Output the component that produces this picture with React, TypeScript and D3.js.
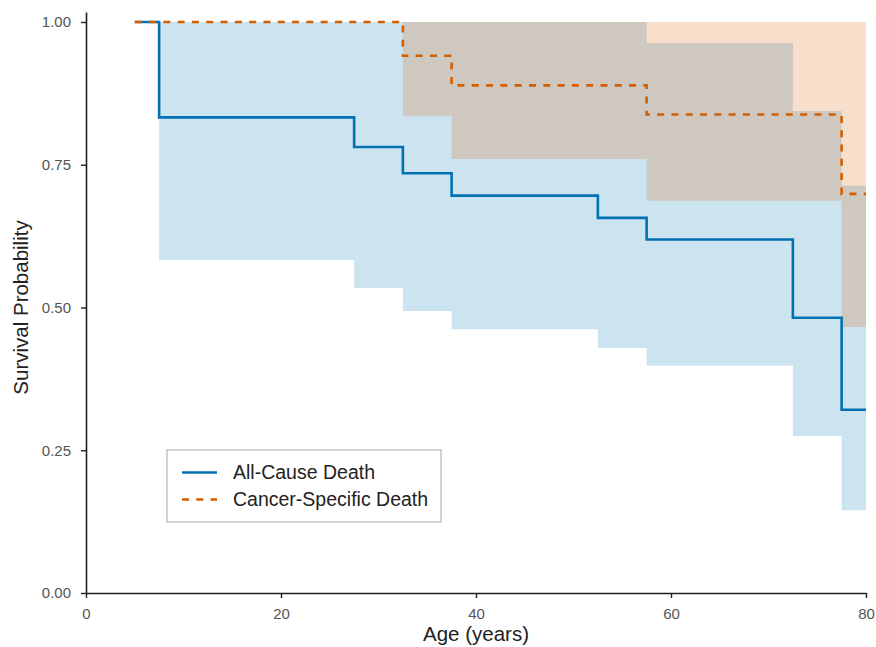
import React, { useEffect, useRef } from "react";
import * as d3 from "d3";

// Kaplan-Meier step values
const allCauseAges = [5, 7.5, 27.5, 32.5, 37.5, 52.5, 57.5, 72.5, 77.5, 80];
const allCauseSurv = [1.0, 0.833, 0.781, 0.735, 0.696, 0.657, 0.619, 0.482, 0.321, 0.321];
const allCauseLower = [1.0, 0.583, 0.534, 0.494, 0.462, 0.429, 0.398, 0.275, 0.145, 0.145];
const allCauseUpper = [1.0, 1.0, 1.0, 1.0, 1.0, 1.0, 0.963, 0.844, 0.713, 0.713];

const cancerAges = [5, 32.5, 37.5, 57.5, 77.5, 80];
const cancerSurv = [1.0, 0.941, 0.889, 0.838, 0.699, 0.699];
const cancerLower = [1.0, 0.835, 0.76, 0.687, 0.466, 0.466];
const cancerUpper = [1.0, 1.0, 1.0, 1.0, 1.0, 1.0];

const xTicks = [0, 20, 40, 60, 80];
const yTicks = [0, 0.25, 0.5, 0.75, 1.0];
const seriesNames = ["All-Cause Death", "Cancer-Specific Death"];

const blue = "#0072B2";
const orange = "#D55E00";
const font = "'Liberation Sans', Arial, sans-serif";

export default function App() {
  const ref = useRef<SVGSVGElement>(null);

  useEffect(() => {
    const width = 876;
    const height = 647;
    const svg = d3.select(ref.current);
    svg.selectAll("*").remove();

    const x = d3.scaleLinear().domain([0, 80]).range([86, 866]);
    const y = d3.scaleLinear().domain([0, 1.0175]).range([593, 12]);

    type Pt = { t: number; s: number; lo: number; hi: number };
    const build = (ages: number[], s: number[], lo: number[], hi: number[]): Pt[] =>
      ages.map((t, i) => ({ t, s: s[i], lo: lo[i], hi: hi[i] }));

    const series = [
      { data: build(allCauseAges, allCauseSurv, allCauseLower, allCauseUpper), color: blue, dash: null as string | null },
      { data: build(cancerAges, cancerSurv, cancerLower, cancerUpper), color: orange, dash: "7,7.3" },
    ];

    const area = d3
      .area<Pt>()
      .x((d) => x(d.t))
      .y0((d) => y(d.lo))
      .y1((d) => y(d.hi))
      .curve(d3.curveStepAfter);

    const line = d3
      .line<Pt>()
      .x((d) => x(d.t))
      .y((d) => y(d.s))
      .curve(d3.curveStepAfter);

    series.forEach((s) => {
      svg.append("path").attr("d", area(s.data)).attr("fill", s.color).attr("fill-opacity", 0.2);
    });
    series.forEach((s) => {
      svg
        .append("path")
        .attr("d", line(s.data))
        .attr("fill", "none")
        .attr("stroke", s.color)
        .attr("stroke-width", 2.6)
        .attr("stroke-dasharray", s.dash);
    });

    // axes
    const xAxisG = svg
      .append("g")
      .attr("transform", `translate(0,${y(0)})`)
      .call(d3.axisBottom(x).tickValues(xTicks).tickFormat(d3.format("d")).tickSize(5).tickSizeOuter(0).tickPadding(10));
    const yAxisG = svg
      .append("g")
      .attr("transform", `translate(${x(0)},0)`)
      .call(d3.axisLeft(y).tickValues(yTicks).tickFormat(d3.format(".2f")).tickSize(5).tickSizeOuter(0).tickPadding(10));

    [xAxisG, yAxisG].forEach((g) => {
      g.select(".domain").attr("stroke", "#222").attr("stroke-width", 1.6);
      g.selectAll(".tick line").attr("stroke", "#222").attr("stroke-width", 1.4);
      g.selectAll(".tick text")
        .attr("fill", "#555")
        .style("font-family", font)
        .style("font-size", "15px");
    });

    svg
      .append("text")
      .attr("x", x(40))
      .attr("y", 641)
      .attr("text-anchor", "middle")
      .style("font-family", font)
      .style("font-size", "20.5px")
      .attr("fill", "#222")
      .text("Age (years)");

    svg
      .append("text")
      .attr("transform", `translate(28,${(y(0) + y(1)) / 2}) rotate(-90)`)
      .attr("text-anchor", "middle")
      .style("font-family", font)
      .style("font-size", "20.5px")
      .attr("fill", "#222")
      .text("Survival Probability");

    // legend
    const legend = svg.append("g").attr("transform", "translate(167,450)");
    legend
      .append("rect")
      .attr("width", 274)
      .attr("height", 72)
      .attr("fill", "white")
      .attr("stroke", "#c4c4c4")
      .attr("stroke-width", 1.5);
    series.forEach((s, i) => {
      const ly = 22.5 + i * 27;
      legend
        .append("line")
        .attr("x1", 15)
        .attr("x2", 50)
        .attr("y1", ly)
        .attr("y2", ly)
        .attr("stroke", s.color)
        .attr("stroke-width", 2.6)
        .attr("stroke-dasharray", s.dash);
      legend
        .append("text")
        .attr("x", 66)
        .attr("y", ly)
        .attr("dy", "0.35em")
        .style("font-family", font)
        .style("font-size", "19.5px")
        .attr("fill", "#222")
        .text(seriesNames[i]);
    });

    svg.attr("width", width).attr("height", height);
  }, []);

  return <svg ref={ref} style={{ position: "absolute", left: 0, top: 0, background: "white" }} />;
}
